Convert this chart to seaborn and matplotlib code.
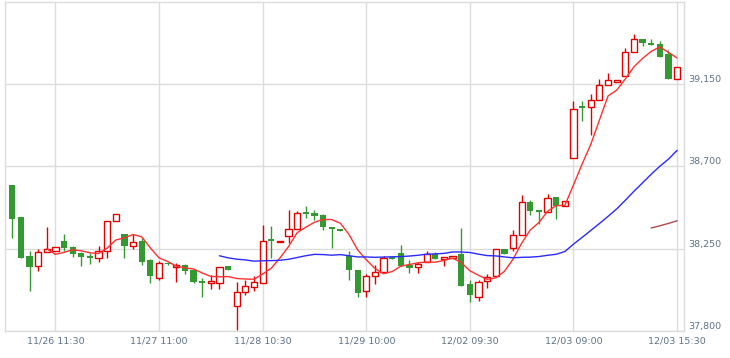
import numpy as np
import pandas as pd
import matplotlib
matplotlib.use("Agg")
import matplotlib.pyplot as plt
import seaborn as sns

# 30-minute candles
opens = [38597, 38422, 38208, 38153, 38234, 38239, 38290, 38257, 38228, 38208,
         38201, 38239, 38403, 38328, 38266, 38290, 38186, 38089, 38168, 38151,
         38158, 38131, 38072, 38061, 38064, 38153, 37938, 38014, 38042, 38064,
         38299, 38285, 38321, 38360, 38449, 38447, 38433, 38367, 38360, 38209,
         38131, 38016, 38100, 38120, 38200, 38224, 38158, 38151, 38175, 38223,
         38193, 38197, 38219, 38054, 37985, 38071, 38100, 38248, 38255, 38327,
         38508, 38460, 38451, 38533, 38486, 38749, 39028, 39028, 39067, 39149,
         39165, 39198, 39330, 39401, 39379, 39370, 39315, 39182]
highs = [38597, 38422, 38239, 38246, 38367, 38261, 38332, 38263, 38230, 38228,
         38263, 38403, 38442, 38328, 38328, 38310, 38195, 38182, 38173, 38171,
         38168, 38140, 38091, 38107, 38151, 38153, 38067, 38080, 38098, 38382,
         38376, 38294, 38460, 38454, 38482, 38464, 38442, 38367, 38360, 38239,
         38131, 38113, 38158, 38212, 38200, 38272, 38186, 38175, 38235, 38234,
         38204, 38208, 38365, 38080, 38080, 38113, 38248, 38248, 38354, 38542,
         38519, 38460, 38551, 38533, 38513, 39057, 39057, 39100, 39182, 39212,
         39176, 39352, 39428, 39401, 39401, 39386, 39341, 39248]
lows = [38310, 38197, 38020, 38127, 38234, 38239, 38239, 38206, 38157, 38168,
        38179, 38201, 38403, 38201, 38245, 38162, 38061, 38080, 38161, 38067,
        38109, 38061, 37987, 38031, 38031, 38133, 37802, 37996, 38018, 38064,
        38201, 38285, 38283, 38360, 38416, 38409, 38354, 38253, 38346, 38076,
        37985, 37985, 38054, 38120, 38194, 38155, 38118, 38118, 38175, 38191,
        38153, 38197, 38045, 37957, 37963, 38036, 38100, 38223, 38235, 38327,
        38433, 38387, 38451, 38414, 38486, 38749, 38948, 38875, 39067, 39149,
        39165, 39198, 39330, 39359, 39368, 39300, 39180, 39182]
closes = [38414, 38198, 38149, 38234, 38250, 38261, 38253, 38220, 38204, 38198,
          38239, 38403, 38442, 38264, 38288, 38175, 38098, 38171, 38164, 38162,
          38127, 38067, 38061, 38071, 38151, 38133, 38014, 38047, 38065, 38294,
          38292, 38294, 38360, 38447, 38442, 38429, 38371, 38357, 38346, 38135,
          38007, 38098, 38120, 38201, 38194, 38155, 38144, 38168, 38219, 38191,
          38204, 38208, 38045, 37994, 38067, 38094, 38248, 38223, 38327, 38508,
          38456, 38451, 38530, 38483, 38513, 39017, 39023, 39067, 39149, 39176,
          39176, 39330, 39401, 39379, 39368, 39300, 39180, 39248]

tick_pos = [5, 17, 29, 41, 53, 65, 77]
tick_labels = ["11/26 11:30", "11/27 11:00", "11/28 10:30", "11/29 10:00",
               "12/02 09:30", "12/03 09:00", "12/03 15:30"]
price_ticks = [37800, 38250, 38700, 39150]

UP = "#e00000"
DOWN = "#339933"
GRID = "#dcdcdc"
TXT = "#5f7286"

df = pd.DataFrame({"o": opens, "h": highs, "l": lows, "c": closes})
df["idx"] = np.arange(len(df))
df["ma5"] = df["c"].rolling(5).mean()
df["ma25"] = df["c"].rolling(25).mean()
df["ma75"] = df["c"].rolling(75).mean()

sns.set_theme(style="white")
fig = plt.figure(figsize=(7.3, 3.58), dpi=100)
ax = fig.add_axes([0.0073, 0.0763, 0.9297, 0.9173])

# grid
for x in tick_pos:
    ax.axvline(x, color=GRID, lw=1.0, zorder=0)
for y in price_ticks:
    ax.axhline(y, color=GRID, lw=1.0, zorder=0)

# candles
up = df["c"] >= df["o"]
w = 0.72
for is_up, color in [(True, UP), (False, DOWN)]:
    sub = df[up == is_up]
    ax.vlines(sub["idx"], sub["l"], sub["h"], color=color, lw=1.0, zorder=2)
    bottom = np.minimum(sub["o"], sub["c"])
    height = np.maximum((sub["o"] - sub["c"]).abs(), 8)
    if is_up:
        ax.bar(sub["idx"], height, w, bottom=bottom, facecolor="white",
               edgecolor=color, linewidth=1.0, zorder=3)
    else:
        ax.bar(sub["idx"], height, w, bottom=bottom, color=color,
               linewidth=0, zorder=3)

# moving averages
sns.lineplot(data=df, x="idx", y="ma5", color="#ff3030", lw=1.0, ax=ax, zorder=4)
sns.lineplot(data=df, x="idx", y="ma25", color="#2a2aff", lw=1.0, ax=ax, zorder=4)
sns.lineplot(data=df, x="idx", y="ma75", color="#b04848", lw=1.0, ax=ax, zorder=4)

ax.set_xlim(-0.8, 77.8)
ax.set_ylim(37800, 39600)
ax.set_xlabel("")
ax.set_ylabel("")

ax.set_xticks(tick_pos)
ax.set_xticklabels(tick_labels, fontsize=6.8, color=TXT)
ax.set_yticks(price_ticks)
ax.set_yticklabels([f"{v:,}" for v in price_ticks], fontsize=6.8, color=TXT)
ax.yaxis.tick_right()
ax.tick_params(axis="x", length=0, pad=4)
ax.tick_params(axis="y", length=0, pad=3)
for lbl in ax.get_yticklabels():
    lbl.set_va("bottom")

for sp in ax.spines.values():
    sp.set_color(GRID)
    sp.set_linewidth(1.0)

fig.savefig("out.png", dpi=100)
